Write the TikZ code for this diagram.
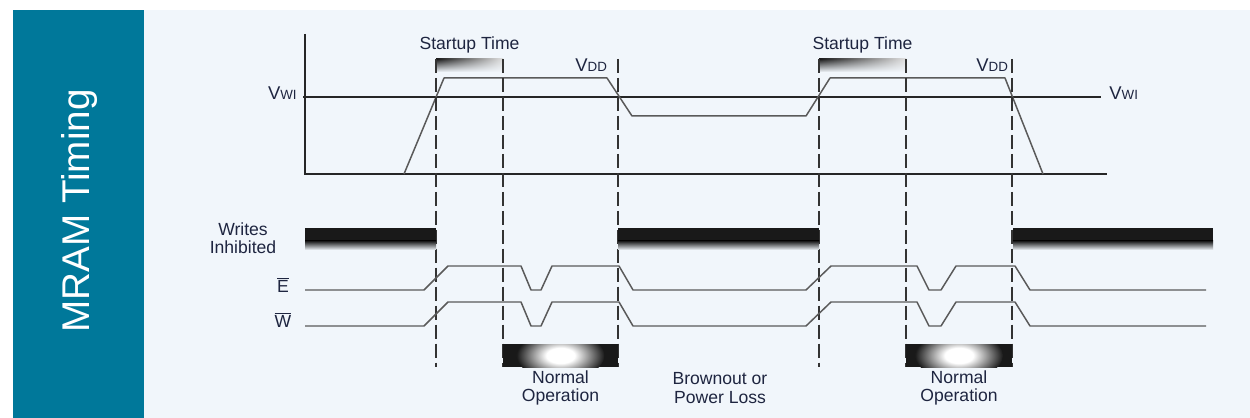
\documentclass[tikz,border=0pt]{standalone}
\usepackage{fontspec}
\setmainfont{Liberation Sans}
\usepackage{tikz}
\usetikzlibrary{fadings}
\definecolor{panel}{HTML}{F1F6FB}
\definecolor{mramteal}{HTML}{00789A}
\definecolor{ink}{HTML}{1E2540}
\definecolor{wave}{HTML}{5A5A5A}
\pgfdeclareradialshading{glow}{\pgfpoint{0bp}{0bp}}{color(0bp)=(white); color(8bp)=(white); color(25bp)=(black!90); color(50bp)=(black!90)}
\tikzset{
    axis/.style={line width=0.85pt, black!85},
    trace/.style={line width=0.85pt, wave, line join=round},
    marker/.style={line width=0.85pt, black!80, dash pattern=on 8pt off 2.8pt},
    lbl/.style={text=ink, font=\fontsize{10}{10.5}\selectfont, align=center, inner sep=0pt},
    volt/.style={text=ink, font=\fontsize{10.5}{11}\selectfont, inner sep=0pt}
}
\newcommand{\tinysub}[1]{{\fontsize{7.6}{8}\selectfont #1}}

\begin{document}
\begin{tikzpicture}[x=0.02cm, y=-0.02cm]
    \useasboundingbox (0,0) rectangle (1250,418);
    \fill[white] (0,0) rectangle (1250,418);
    \fill[panel] (144,10) rectangle (1250,418);
    \fill[mramteal] (13,10) rectangle (144,418);
    \node[rotate=90, anchor=base, inner sep=0pt, text=white, font=\fontsize{22}{24}\selectfont] (title) at (89,211) {MRAM Timing};

    % supply voltage plot
    \draw[axis] (305,34) -- (305,174) -- (1107,174);
    \draw[axis] (303,97) -- (1101,97);
    \draw[trace] (404,174) -- (444,78) -- (607,78) -- (632,116) -- (806,116)
        -- (830,78) -- (1005,78) -- (1043,174);
    \node[volt, anchor=base east] (vwiL) at (297,100) {V\tinysub{WI}};
    \node[volt, anchor=base west] (vwiR) at (1109,100) {V\tinysub{WI}};
    \node[volt, anchor=base west] (vddA) at (575,72) {V\tinysub{DD}};
    \node[volt, anchor=base west] (vddB) at (976,72) {V\tinysub{DD}};

    % startup bars
    \foreach \a/\b/\n in {436/503/startupA, 819/906/startupB} {
        \shade[left color=black!90, right color=black!12, path fading=south] (\a,59) rectangle (\b,72);
        \node[lbl, anchor=base] (\n) at ({(\a+\b)/2},50) {Startup Time};
    }

    % time markers
    \foreach \t in {436,503,618,819,906,1012}
        \draw[marker] (\t,59) -- (\t,367);

    % writes inhibited
    \node[lbl] (writes) at (243,238) {Writes\\Inhibited};
    \foreach \a/\b in {305/436, 618/819, 1013/1213} {
        \fill[black!90] (\a,228) rectangle (\b,241);
        \shade[top color=black!90, bottom color=panel] (\a,241) rectangle (\b,250);
    }

    % control lines
    \node[lbl, anchor=base] (enable) at (283,293) {$\overline{\mbox{E}}$};
    \node[lbl, anchor=base] (wenable) at (283,328) {$\overline{\mbox{W}}$};
    \foreach \lo/\hi in {290/266, 326/302}
        \draw[trace] (305,\lo) -- (424,\lo) -- (448,\hi) -- (521,\hi) -- (531,\lo) -- (541,\lo)
            -- (552,\hi) -- (619,\hi) -- (633,\lo) -- (806,\lo) -- (831,\hi) -- (917,\hi)
            -- (929,\lo) -- (941,\lo) -- (956,\hi) -- (1015,\hi) -- (1030,\lo) -- (1206,\lo);

    % normal operation windows
    \foreach \a/\b/\n in {503/618/normalA, 906/1012/normalB} {
        \fill[black!90] (\a,344) rectangle (\b,367);
        \begin{scope}
            \clip (\a,344) rectangle (\b,367);
            \shade[shading=glow] ({(\a+\b)/2},355.5) ellipse (44 and 24);
        \end{scope}
        \node[lbl] (\n) at ({(\a+\b)/2},388) {Normal\\Operation};
    }
    \node[lbl] (brownout) at (720,388) {Brownout or\\Power Loss};
\end{tikzpicture}
\end{document}
